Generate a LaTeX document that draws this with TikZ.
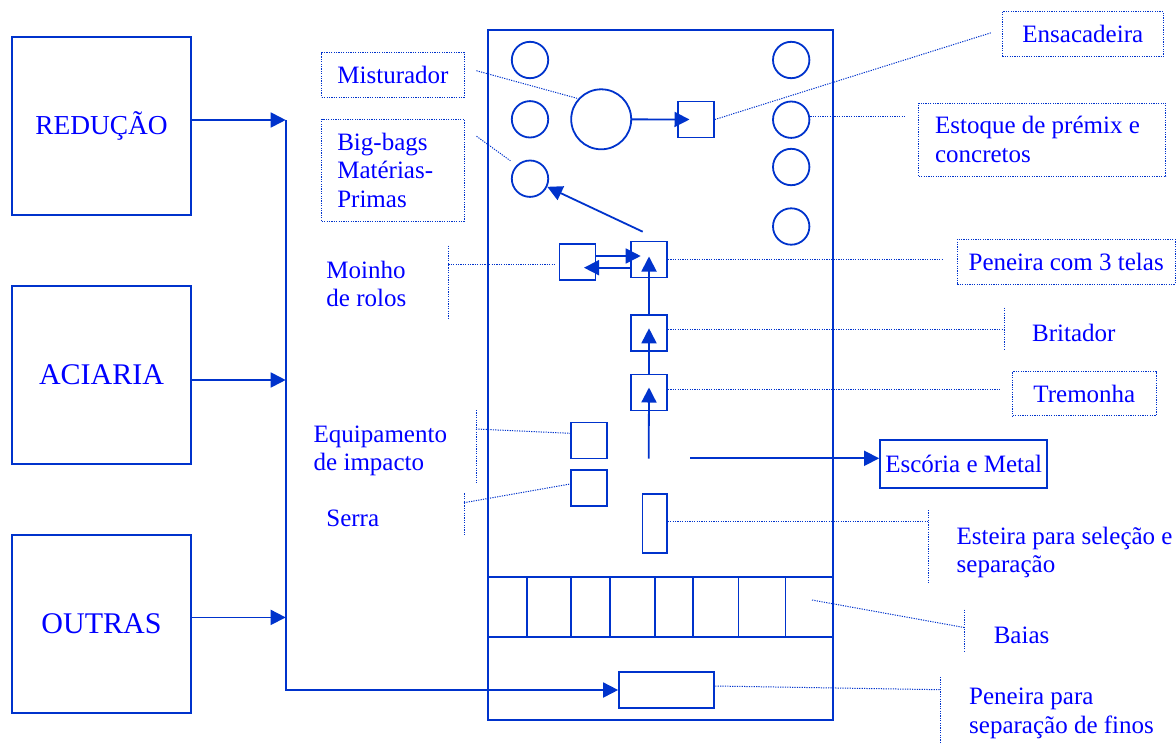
\documentclass[tikz,border=0pt]{standalone}
\usepackage{fontspec}
\setmainfont{Liberation Serif}
\usetikzlibrary{arrows.meta}
\definecolor{lineblue}{RGB}{0,51,204}
\definecolor{textblue}{RGB}{0,0,255}
\tikzset{
  srcbox/.style={
    draw=lineblue,
    line width=0.9pt,
    minimum width=89.5pt,
    minimum height=89pt,
    inner sep=0pt,
    text=textblue,
    font=\fontsize{15}{18}\selectfont
  },
  machine/.style={
    draw=lineblue,
    line width=0.9pt,
    minimum width=18pt,
    minimum height=18pt,
    inner sep=0pt
  },
  tank/.style={
    draw=lineblue,
    line width=0.9pt,
    shape=circle,
    minimum size=18.2pt,
    inner sep=0pt
  },
  labbox/.style={
    draw=lineblue,
    line width=0.5pt,
    dash pattern=on 0.6pt off 0.6pt,
    inner sep=0pt,
    align=flush left,
    text=textblue,
    font=\fontsize{12.5}{14.3}\selectfont
  },
  lab/.style={
    anchor=base west,
    inner sep=0pt,
    align=flush left,
    text=textblue,
    font=\fontsize{12.5}{14.3}\selectfont
  },
  lead/.style={
    draw=lineblue,
    line width=0.5pt,
    dash pattern=on 0.6pt off 0.6pt
  },
  wall/.style={draw=lineblue, line width=0.9pt},
  flow/.style={
    draw=lineblue,
    line width=0.9pt,
    -{Triangle[length=7.5pt,width=7.5pt]}
  }
}
\begin{document}
\begin{tikzpicture}[x=0.5pt,y=-0.5pt]
  \useasboundingbox (0,0) rectangle (1176,744);
  % sources
  \node[srcbox,font=\fontsize{13.7}{16}\selectfont] (red) at (101.5,125.7) {REDUÇÃO};
  \node[srcbox] (aci) at (101.5,374.8) {ACIARIA};
  \node[srcbox] (out) at (101.5,624) {OUTRAS};
  \coordinate (j1) at (285.7,120);
  \coordinate (j2) at (285.7,380);
  \coordinate (j3) at (285.7,617.4);
  \draw[flow] (red.east |- j1) -- (j1);
  \draw[flow] (aci.east |- j2) -- (j2);
  \draw[flow] (out.east |- j3) -- (j3);

  % plant
  \node[wall,minimum width=172.65pt,minimum height=345pt,inner sep=0pt] (plant) at (660.35,375) {};
  \draw[wall] (487.7,576.7) -- (833,576.7);
  \draw[wall] (487.7,636.7) -- (833,636.7);
  \foreach \x in {526.7,571.1,610.2,654.6,693.2,738.4,785.5}
    \draw[wall] (\x,576.7) -- (\x,636.7);

  \node[tank] (c1) at (530,60) {};
  \node[tank] (c2) at (530,119.3) {};
  \node[tank] (c3) at (530,178.7) {};
  \node[tank] (r1) at (791.2,60) {};
  \node[tank] (r2) at (791.2,119.7) {};
  \node[tank] (r3) at (791.2,167) {};
  \node[tank] (r4) at (791.2,226.5) {};
  \node[tank,minimum size=30pt] (mix) at (601.2,119.3) {};
  \node[machine] (ens) at (696,119.5) {};
  \node[machine] (pen) at (649,259.5) {};
  \node[machine] (moi) at (577.5,262) {};
  \node[machine] (bri) at (649,333.3) {};
  \node[machine] (tre) at (649,392.5) {};
  \node[machine] (imp) at (589,440.5) {};
  \node[machine] (ser) at (589,488) {};
  \node[machine,minimum width=12.25pt,minimum height=29.65pt] (est) at (654.7,523.3) {};
  \node[machine,minimum width=47.65pt] (fin) at (666.7,690) {};
  \node[machine,minimum width=83.65pt,minimum height=23.85pt,text=textblue,font=\fontsize{12.5}{14.3}\selectfont] (esc) at (963.7,463.8) {Escória e Metal};

  % material flow
  \draw[flow] (j1) |- (fin.west);
  \draw[flow,shorten >=-6.2pt] (mix) -- (ens);
  \coordinate (m1) at ([yshift=3pt]moi.east);
  \coordinate (p1) at ([yshift=-4.1pt]pen.west);
  \draw[flow,shorten >=-5.3pt] (m1) -- (m1 -| pen.west);
  \draw[flow,shorten >=-6.2pt] (p1) -- (p1 -| moi.east);
  \coordinate (feed) at (648.7,458.7);
  \draw[flow] (feed) -- ([yshift=2.5pt]tre.center);
  \draw[flow] (tre.north) -- ([yshift=2.5pt]bri.center);
  \draw[flow] (bri.north) -- ([yshift=1.5pt]pen.center);
  \coordinate (bagin) at (642.7,231.7);
  \draw[flow] (bagin) -- (c3);
  \coordinate (sort) at (690,458.3);
  \draw[flow] (sort) -- (sort -| esc.west);

  % labels
  \node[labbox,minimum width=71.3pt,minimum height=22.3pt] (mistl) at (393,75) {Misturador};
  \node[labbox,minimum height=50.85pt,inner xsep=7.8pt,text width=55.7pt] (bagsl) at (393,170.2) {Big-bags\\Matérias-\\Primas};
  \node[labbox,minimum width=80.5pt,minimum height=22.5pt] (ensl) at (1082.8,34.2) {Ensacadeira};
  \node[labbox,minimum height=36.35pt,inner xsep=8.15pt,text width=107.3pt] (estql) at (1042.35,139.65) {Estoque de prémix e\\concretos};
  \node[labbox,minimum width=108.85pt,minimum height=22.35pt] (penl) at (1066.15,261.65) {Peneira com 3 telas};
  \node[labbox,minimum width=71.65pt,minimum height=22pt] (trel) at (1084.35,393.7) {Tremonha};
  \node[lab] (moil) at (326,306.7) {Moinho\\de rolos};
  \node[lab] (bril) at (1031.7,341) {Britador};
  \node[lab] (impl) at (313.3,470.7) {Equipamento\\de impacto};
  \node[lab] (serl) at (326,526) {Serra};
  \node[lab] (estl) at (956.3,572.6) {Esteira para seleção e\\separação};
  \node[lab] (bail) at (993.4,643.4) {Baias};
  \node[lab] (finl) at (968.8,733) {Peneira para\\separação de finos};

  % leaders
  \draw[lead] ([xshift=5.8pt,yshift=2.15pt]mistl.east) -- (mix.138);
  \draw[lead,shorten >=3.8pt] ([xshift=5.85pt,yshift=-8.7pt]bagsl.north east) -- (c3.135);
  \draw[lead,shorten >=5.3pt] (ens.east) -- ([yshift=2.4pt]ensl.west);
  \coordinate (q1) at ([yshift=1.7pt]r2.east);
  \draw[lead,shorten >=6.35pt] (q1) -- (q1 -| estql.west);
  \draw[lead,shorten >=7pt] (pen.east) -- (pen.east -| penl.west);
  \draw[lead,shorten >=6.3pt] ([yshift=1.7pt]tre.east) -- ([yshift=1.7pt]tre.east -| trel.west);
  \draw[lead] (448.3,245.7) -- (448.3,318.3);
  \coordinate (bk1) at (448.3,264.3);
  \draw[lead,shorten >=1.3pt] (bk1) -- (bk1 -| moi.west);
  \draw[lead] (1004,307.7) -- (1004,350);
  \coordinate (bk2) at (1004,329);
  \draw[lead] (bk2 -| bri.east) -- (bk2);
  \draw[lead] (476,410) -- (476,482.3);
  \coordinate (bk3) at (476,429);
  \draw[lead] (bk3) -- ([yshift=3.6pt]imp.west);
  \draw[lead] (464,493.3) -- (464,536);
  \coordinate (bk4) at (464,502.7);
  \draw[lead] (bk4) -- ([yshift=2pt]ser.west);
  \draw[lead] (928.3,510) -- (928.3,583.7);
  \coordinate (bk5) at (928.3,521);
  \draw[lead] (bk5 -| est.east) -- (bk5);
  \draw[lead] (964.7,609.7) -- (964.7,652.5);
  \coordinate (bk6) at (964.7,627.6);
  \coordinate (baia) at (812,600);
  \draw[lead] (baia) -- (bk6);
  \draw[lead] (940.4,677) -- (940.4,744);
  \coordinate (bk7) at (940.4,689.7);
  \draw[lead] ([yshift=2pt]fin.east) -- (bk7);
\end{tikzpicture}
\end{document}
